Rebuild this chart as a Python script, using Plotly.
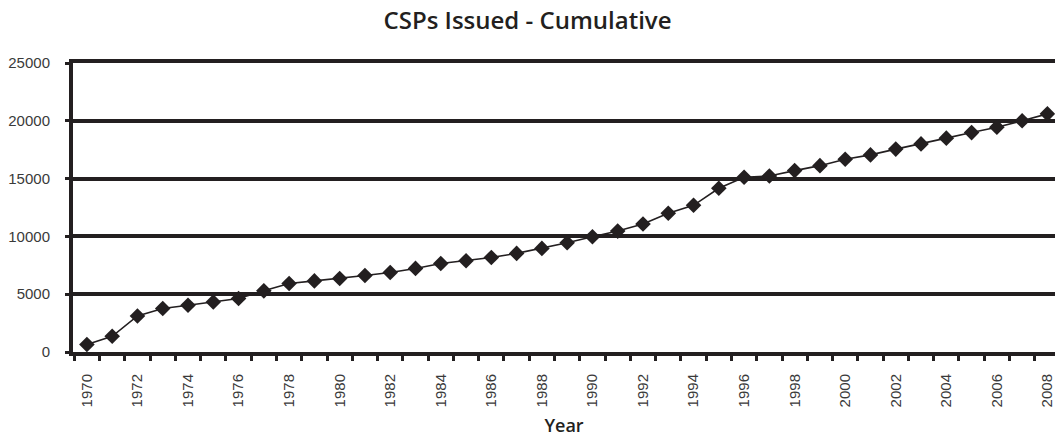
import plotly.graph_objects as go

years = [str(y) for y in range(1970, 2009)]
cumulative = [650, 1360, 3120, 3760, 4050, 4330, 4630, 5290, 5930, 6150,
              6360, 6620, 6880, 7230, 7660, 7890, 8180, 8530, 8960, 9450,
              9970, 10460, 11070, 12000, 12690, 14160, 15120, 15230, 15690, 16120,
              16680, 17050, 17550, 18000, 18500, 18980, 19450, 20000, 20600]
tick_text = [y if int(y) % 2 == 0 else "" for y in years]
y_ticks = [0, 5000, 10000, 15000, 20000, 25000]
y_text = [str(v) for v in y_ticks]

ink = "#231f20"
label_grey = "#3a3a3a"
sans = "Liberation Sans, Arial"

fig = go.Figure()
fig.add_trace(go.Scatter(
    x=years, y=cumulative, mode="lines+markers",
    line=dict(color=ink, width=1.6),
    marker=dict(symbol="diamond", size=12, color=ink),
    showlegend=False, cliponaxis=False,
))

fig.update_layout(
    width=1055, height=438,
    paper_bgcolor="white", plot_bgcolor="white",
    margin=dict(l=73, r=0, t=63, b=86),
    title=dict(text="CSPs Issued - Cumulative", x=0.5, xanchor="center",
               y=0.954, yanchor="middle",
               font=dict(family="Open Sans", size=24, color=ink, weight=600)),
    xaxis=dict(
        type="category", categoryorder="array", categoryarray=years,
        tickvals=years, ticktext=tick_text, tickson="boundaries",
        range=[-0.55, 38.3],
        ticks="outside", ticklen=5, tickwidth=3, tickcolor=ink,
        tickangle=-90, tickfont=dict(family=sans, size=15, color=label_grey),
        ticklabelstandoff=12,
        showline=True, linewidth=4, linecolor=ink, mirror=True, showgrid=False,
        automargin=False,
        title=dict(text="Year", font=dict(family="Open Sans", size=18, color=ink, weight=600),
                   standoff=14),
    ),
    yaxis=dict(
        range=[0, 25000], tickvals=y_ticks, ticktext=y_text,
        ticks="outside", ticklen=4, tickwidth=3, tickcolor=ink,
        tickfont=dict(family=sans, size=15, color=label_grey),
        ticklabelstandoff=12, automargin=False,
        showline=True, linewidth=4, linecolor=ink,
        showgrid=True, gridcolor=ink, gridwidth=4, zeroline=False,
    ),
)

fig.write_html(
    "out.html",
    config={"displayModeBar": False},
    post_script="document.body.style.margin='0';document.body.style.overflow='hidden';",
)
